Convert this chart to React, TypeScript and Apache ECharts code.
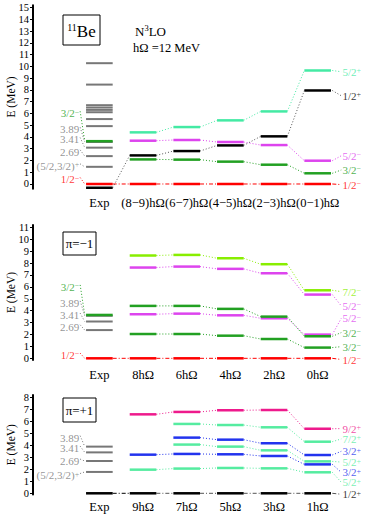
import { useEffect, useRef } from 'react';
import * as echarts from 'echarts';

const SERIF = '"Liberation Serif", "DejaVu Serif", "Times New Roman", serif';
const HALF = 0.305;
const XMIN = -1.52;
const XMAX = 6.267;
const RLX = 5.57;
const LLX = -0.46;

const C = {
  red: '#ff0000',
  green: '#22a022',
  magenta: '#dd44ee',
  mint: '#44eaa4',
  lime: '#88ee00',
  aqua: '#55eca0',
  blue: '#2233ee',
  pink: '#ee1a8c',
  black: '#000000',
  gray: '#777777',
};
const DOT = [1, 2];
const DASHDOT = [4, 2, 1, 2];

// ---------- Panel 1: all states ----------
const p1Categories = ['Exp', '(8−9)hΩ', '(6−7)hΩ', '(4−5)hΩ', '(2−3)hΩ', '(0−1)hΩ'];
const p1Ticks = [0, 1, 2, 3, 4, 5, 6, 7, 8, 9, 10, 11, 12, 13, 14, 15];
const p1ExpGray = [1.46, 2.37, 3.09, 3.57, 4.92, 5.52, 6.1, 6.3, 6.5, 6.7, 8.45, 10.27];
const p1ExpRed = [0];
const p1ExpGreen = [3.64];
const p1ExpBlack = [-0.32];
const p1Half12Minus = [0, 0, 0, 0, 0];
const p1Three2Minus = [2.09, 2.07, 1.9, 1.64, 0.91];
const p1Five2Minus = [3.68, 3.74, 3.57, 3.31, 1.98];
const p1Half12Plus = [2.43, 2.8, 3.28, 4.05, 7.95];
const p1Five2Plus = [4.39, 4.84, 5.41, 6.17, 9.65];

// ---------- Panel 2: negative parity ----------
const p2Categories = ['Exp', '8hΩ', '6hΩ', '4hΩ', '2hΩ', '0hΩ'];
const p2Ticks = [0, 1, 2, 3, 4, 5, 6, 7, 8, 9, 10, 11];
const p2ExpGray = [2.37, 3.09, 3.57];
const p2ExpGreen = [3.64];
const p2ExpRed = [0];
const p2Half12 = [0, 0, 0, 0, 0];
const p2Three2a = [2.04, 2.04, 1.9, 1.62, 0.9];
const p2Five2a = [3.7, 3.75, 3.61, 3.36, 1.99];
const p2Three2b = [4.4, 4.4, 4.15, 3.5, 1.85];
const p2Five2b = [7.62, 7.7, 7.51, 7.14, 5.35];
const p2Seven2 = [8.63, 8.68, 8.4, 7.9, 5.71];

// ---------- Panel 3: positive parity ----------
const p3Categories = ['Exp', '9hΩ', '7hΩ', '5hΩ', '3hΩ', '1hΩ'];
const p3Ticks = [0, 1, 2, 3, 4, 5, 6, 7, 8];
const p3ExpGray = [1.78, 2.69, 3.41, 3.89];
const p3ExpBlack = [0];
const p3Half12 = [0, 0, 0, 0, 0];
const p3Five2b = [1.97, 2.06, 2.11, 2.08, 1.75];
const p3Three2b = [3.22, 3.28, 3.25, 3.11, 2.41];
const p3Five2a = [null, 4.06, 3.89, 3.58, 2.66];
const p3Three2a = [null, 4.64, 4.47, 4.17, 3.19];
const p3Seven2 = [null, 5.78, 5.69, 5.5, 4.3];
const p3Nine2 = [6.58, 6.78, 6.92, 6.94, 5.38];

type Track = { vals: (number | null)[]; color: string; dash: number[]; from?: number; text: string; sup: string; ly: number };
type ExpSet = { vals: number[]; color: string; width: number };
type LeftLbl = { text: string; sup: string; color: string; ly: number; to: number | null };
type Panel = {
  cats: string[]; top: number; height: number; min: number; max: number; ticks: number[]; margin: number;
  exp: ExpSet[]; tracks: Track[]; left: LeftLbl[];
};

const panels: Panel[] = [
  {
    cats: p1Categories, top: 5.2, height: 183.5, min: -0.4, max: 15.2, ticks: p1Ticks, margin: 8,
    exp: [
      { vals: p1ExpGray, color: C.gray, width: 2 },
      { vals: p1ExpGreen, color: C.green, width: 2.5 },
      { vals: p1ExpRed, color: C.red, width: 2.5 },
      { vals: p1ExpBlack, color: C.black, width: 2.5 },
    ],
    tracks: [
      { vals: p1Half12Minus, color: C.red, dash: DASHDOT, from: 0, text: '1/2', sup: '−', ly: -0.05 },
      { vals: p1Three2Minus, color: C.green, dash: DOT, text: '3/2', sup: '−', ly: 1.19 },
      { vals: p1Five2Minus, color: C.magenta, dash: DOT, text: '5/2', sup: '−', ly: 2.4 },
      { vals: p1Half12Plus, color: C.black, dash: DOT, from: -0.32, text: '1/2', sup: '+', ly: 7.5 },
      { vals: p1Five2Plus, color: C.mint, dash: DOT, text: '5/2', sup: '+', ly: 9.54 },
    ],
    left: [
      { text: '3/2', sup: '−', color: C.green, ly: 6.03, to: 3.64 },
      { text: '3.89', sup: '', color: C.gray, ly: 4.67, to: 3.57 },
      { text: '3.41', sup: '', color: C.gray, ly: 3.8, to: 3.09 },
      { text: '2.69', sup: '', color: C.gray, ly: 2.75, to: 2.37 },
      { text: '(5/2,3/2)', sup: '+', color: C.gray, ly: 1.56, to: 1.46 },
      { text: '1/2', sup: '−', color: C.red, ly: 0.4, to: 0 },
      { text: '1/2', sup: '+', color: C.black, ly: -0.55, to: null },
    ],
  },
  {
    cats: p2Categories, top: 224.9, height: 135.2, min: -0.15, max: 11.2, ticks: p2Ticks, margin: 8,
    exp: [
      { vals: p2ExpGray, color: C.gray, width: 2 },
      { vals: p2ExpGreen, color: C.green, width: 2.5 },
      { vals: p2ExpRed, color: C.red, width: 2.5 },
    ],
    tracks: [
      { vals: p2Half12, color: C.red, dash: DASHDOT, from: 0, text: '1/2', sup: '−', ly: -0.1 },
      { vals: p2Three2a, color: C.green, dash: DOT, text: '3/2', sup: '−', ly: 0.98 },
      { vals: p2Five2a, color: C.magenta, dash: DOT, text: '5/2', sup: '−', ly: 3.36 },
      { vals: p2Three2b, color: C.green, dash: DOT, text: '3/2', sup: '−', ly: 2.16 },
      { vals: p2Five2b, color: C.magenta, dash: DOT, text: '5/2', sup: '−', ly: 4.4 },
      { vals: p2Seven2, color: C.lime, dash: DOT, text: '7/2', sup: '−', ly: 5.6 },
    ],
    left: [
      { text: '3/2', sup: '−', color: C.green, ly: 6.01, to: 3.64 },
      { text: '3.89', sup: '', color: C.gray, ly: 4.67, to: 3.57 },
      { text: '3.41', sup: '', color: C.gray, ly: 3.64, to: 3.09 },
      { text: '2.69', sup: '', color: C.gray, ly: 2.66, to: 2.37 },
      { text: '1/2', sup: '−', color: C.red, ly: 0.28, to: 0 },
    ],
  },
  {
    cats: p3Categories, top: 394.9, height: 99.6, min: -0.1, max: 8.2, ticks: p3Ticks, margin: 5.5,
    exp: [
      { vals: p3ExpGray, color: C.gray, width: 2 },
      { vals: p3ExpBlack, color: C.black, width: 2.5 },
    ],
    tracks: [
      { vals: p3Half12, color: C.black, dash: DASHDOT, from: 0, text: '1/2', sup: '+', ly: -0.08 },
      { vals: p3Five2b, color: C.aqua, dash: DOT, text: '5/2', sup: '+', ly: 0.92 },
      { vals: p3Three2b, color: C.blue, dash: DOT, text: '3/2', sup: '+', ly: 1.75 },
      { vals: p3Five2a, color: C.aqua, dash: DOT, text: '5/2', sup: '+', ly: 2.6 },
      { vals: p3Three2a, color: C.blue, dash: DOT, text: '3/2', sup: '+', ly: 3.5 },
      { vals: p3Seven2, color: C.aqua, dash: DOT, text: '7/2', sup: '+', ly: 4.53 },
      { vals: p3Nine2, color: C.pink, dash: DOT, text: '9/2', sup: '+', ly: 5.39 },
    ],
    left: [
      { text: '3.89', sup: '', color: C.gray, ly: 4.65, to: 3.89 },
      { text: '3.41', sup: '', color: C.gray, ly: 3.78, to: 3.41 },
      { text: '2.69', sup: '', color: C.gray, ly: 2.7, to: 2.69 },
      { text: '(5/2,3/2)', sup: '+', color: C.gray, ly: 1.5, to: 1.78 },
      { text: '1/2', sup: '+', color: C.black, ly: -0.55, to: null },
    ],
  },
];

function richFor(color: string) {
  return {
    n: { fontFamily: SERIF, fontSize: 11, color, lineHeight: 10 },
    s: { fontFamily: SERIF, fontSize: 8, color, lineHeight: 6, verticalAlign: 'top' },
  };
}
function fmt(text: string, sup: string) {
  return sup ? `{n|${text}}{s|${sup}}` : `{n|${text}}`;
}

function buildOption() {
  const grid: any[] = [];
  const xAxis: any[] = [];
  const yAxis: any[] = [];
  const series: any[] = [];
  const graphic: any[] = [];

  panels.forEach((p, i) => {
    grid.push({ left: 33, width: 340, top: p.top, height: p.height, outerBoundsMode: 'none', containLabel: false });
    xAxis.push({
      type: 'value', gridIndex: i, min: XMIN, max: XMAX,
      axisLine: { show: false, onZero: false }, axisTick: { show: false }, splitLine: { show: false },
      axisLabel: {
        customValues: [0, 1, 2, 3, 4, 5],
        formatter: (v: number) => p.cats[Math.round(v)] ?? '',
        fontFamily: SERIF, fontSize: 12.5, color: '#000', margin: p.margin, hideOverlap: false,
      },
    });
    yAxis.push({
      type: 'value', gridIndex: i, min: p.min, max: p.max,
      axisLine: { show: true, onZero: false, lineStyle: { color: '#000', width: 2 } },
      axisTick: { show: true, customValues: p.ticks, length: 3, lineStyle: { color: '#000', width: 1 } },
      axisLabel: { customValues: p.ticks, fontFamily: SERIF, fontSize: 10.5, color: '#000', margin: 4 },
      splitLine: { show: false },
    });
    // axis title, placed beside the axis
    graphic.push({
      type: 'text', x: 11, y: p.top + p.height / 2, rotation: Math.PI / 2,
      style: { text: 'E (MeV)', fontFamily: SERIF, fontSize: 11.5, fill: '#000', align: 'center', verticalAlign: 'middle' },
    });

    // level bars
    const lvData: number[][] = [];
    const lvMeta: { color: string; width: number }[] = [];
    p.exp.forEach((s) => s.vals.forEach((v) => { lvData.push([0, v]); lvMeta.push({ color: s.color, width: s.width }); }));
    p.tracks.forEach((t) => t.vals.forEach((v, j) => {
      if (v != null) { lvData.push([j + 1, v]); lvMeta.push({ color: t.color, width: 2.5 }); }
    }));

    // connectors and leaders
    const cnData: number[][] = [];
    const cnMeta: { color: string; dash: number[] }[] = [];
    p.tracks.forEach((t) => {
      if (t.from != null && t.vals[0] != null) {
        cnData.push([HALF, t.from, 1 - HALF, t.vals[0] as number]);
        cnMeta.push({ color: t.from < 0 ? '#555' : t.color, dash: t.from < 0 ? DOT : t.dash });
      }
      for (let j = 0; j < t.vals.length - 1; j++) {
        const a = t.vals[j], b = t.vals[j + 1];
        if (a != null && b != null) {
          cnData.push([j + 1 + HALF, a, j + 2 - HALF, b]);
          cnMeta.push({ color: t.color === C.black ? '#555' : t.color, dash: t.dash });
        }
      }
      const last = t.vals[t.vals.length - 1] as number;
      cnData.push([5 + HALF + 0.03, last, RLX - 0.03, t.ly]);
      cnMeta.push({ color: t.color === C.black ? '#555' : t.color, dash: t.dash });
    });
    p.left.forEach((l) => {
      if (l.to != null) {
        cnData.push([LLX + 0.02, l.ly + 0.15, -HALF - 0.03, l.to]);
        cnMeta.push({ color: l.color, dash: DOT });
      }
    });

    series.push({
      type: 'custom', xAxisIndex: i, yAxisIndex: i, silent: true, z: 2,
      encode: { x: [0, 2], y: [1, 3] },
      data: cnData,
      renderItem: (params: any, api: any) => {
        const m = cnMeta[params.dataIndex];
        const a = api.coord([api.value(0), api.value(1)]);
        const b = api.coord([api.value(2), api.value(3)]);
        return {
          type: 'line',
          shape: { x1: a[0], y1: a[1], x2: b[0], y2: b[1] },
          style: { stroke: m.color, lineWidth: 1, lineDash: m.dash },
        };
      },
    });
    series.push({
      type: 'custom', xAxisIndex: i, yAxisIndex: i, silent: true, z: 3,
      data: lvData,
      renderItem: (params: any, api: any) => {
        const m = lvMeta[params.dataIndex];
        const c = api.coord([api.value(0), api.value(1)]);
        const hw = api.size([HALF, 0])[0];
        return {
          type: 'line',
          shape: { x1: c[0] - hw, y1: c[1], x2: c[0] + hw, y2: c[1] },
          style: { stroke: m.color, lineWidth: m.width },
        };
      },
    });

    // labels
    const lbData: any[] = [];
    p.tracks.forEach((t) => {
      lbData.push({
        value: [RLX, t.ly],
        label: { show: true, position: 'right', distance: 0, formatter: fmt(t.text, t.sup), rich: richFor(t.color) },
      });
    });
    p.left.forEach((l) => {
      lbData.push({
        value: [LLX, l.ly],
        label: { show: true, position: 'left', distance: 0, formatter: fmt(l.text, l.sup), rich: richFor(l.color) },
      });
    });
    series.push({
      type: 'scatter', xAxisIndex: i, yAxisIndex: i, silent: true, symbolSize: 0, z: 4,
      data: lbData,
    });
  });

  graphic.push(
    { type: 'rect', shape: { x: 63, y: 15, width: 37, height: 30 }, style: { fill: 'none', stroke: '#000', lineWidth: 1 } },
    {
      type: 'text', style: {
        x: 81.5, y: 31, text: '{s|11}{b|Be}', align: 'center', verticalAlign: 'middle',
        rich: {
          s: { fontFamily: SERIF, fontSize: 10, lineHeight: 10, verticalAlign: 'top', fill: '#000' },
          b: { fontFamily: SERIF, fontSize: 17, lineHeight: 18, fill: '#000' },
        },
      },
    },
    {
      type: 'text', style: {
        x: 135, y: 31, text: '{n|N}{s|3}{n|LO}', align: 'left', verticalAlign: 'middle',
        rich: {
          s: { fontFamily: SERIF, fontSize: 8.5, lineHeight: 9, verticalAlign: 'top', fill: '#000' },
          n: { fontFamily: SERIF, fontSize: 13, lineHeight: 15, fill: '#000' },
        },
      },
    },
    { type: 'text', style: { x: 133, y: 48, text: 'hΩ =12 MeV', fontFamily: SERIF, fontSize: 12.5, fill: '#000', align: 'left', verticalAlign: 'middle' } },
    { type: 'rect', shape: { x: 63, y: 232, width: 33, height: 23 }, style: { fill: 'none', stroke: '#000', lineWidth: 1 } },
    { type: 'text', style: { x: 79.5, y: 243.5, text: 'π=−1', fontFamily: SERIF, fontSize: 13, fill: '#000', align: 'center', verticalAlign: 'middle' } },
    { type: 'rect', shape: { x: 63, y: 398, width: 33, height: 24 }, style: { fill: 'none', stroke: '#000', lineWidth: 1 } },
    { type: 'text', style: { x: 79.5, y: 410, text: 'π=+1', fontFamily: SERIF, fontSize: 13, fill: '#000', align: 'center', verticalAlign: 'middle' } },
  );

  return { animation: false, backgroundColor: '#ffffff', grid, xAxis, yAxis, series, graphic };
}

export default function App() {
  const ref = useRef<HTMLDivElement>(null);
  useEffect(() => {
    if (!ref.current) return;
    const chart = echarts.init(ref.current, undefined, { renderer: 'svg' });
    chart.setOption(buildOption() as any);
    return () => chart.dispose();
  }, []);
  return <div ref={ref} style={{ position: 'fixed', left: 0, top: 0, width: 374, height: 516, background: '#fff' }} />;
}
